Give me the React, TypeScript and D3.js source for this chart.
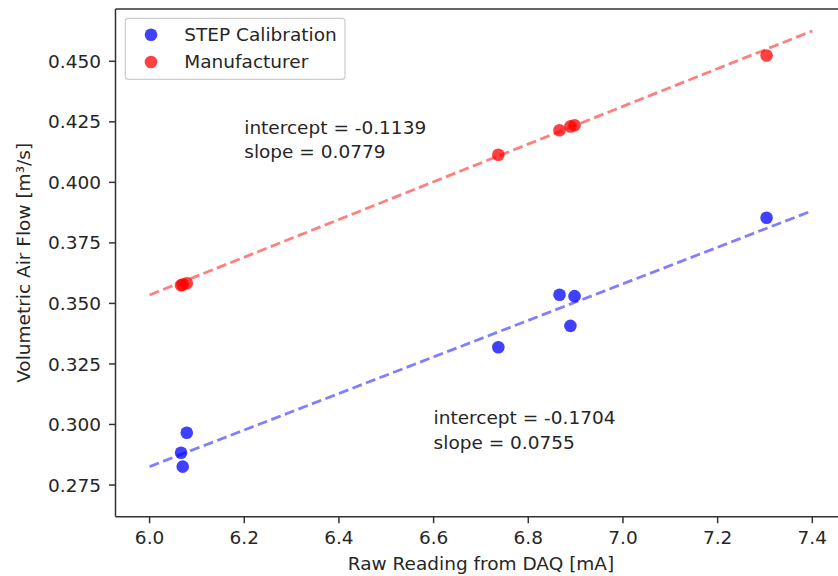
import React from "react";
import * as d3 from "d3";

const stepX = [6.0665, 6.0700, 6.0785, 6.7367, 6.8660, 6.8890, 6.8977, 7.3034];
const stepY = [0.2883, 0.2826, 0.2966, 0.3319, 0.3536, 0.3407, 0.3530, 0.3854];
const mfrX = [6.0665, 6.0700, 6.0785, 6.7367, 6.8660, 6.8890, 6.8977, 7.3034];
const mfrY = [0.3575, 0.3578, 0.3583, 0.4114, 0.4215, 0.4231, 0.4236, 0.4524];
const fitRange = [6.0, 7.4];
const stepFit = { intercept: -0.1704, slope: 0.0755 };
const mfrFit = { intercept: -0.1139, slope: 0.0779 };
const xTicks = [6.0, 6.2, 6.4, 6.6, 6.8, 7.0, 7.2, 7.4];
const yTicks = [0.275, 0.3, 0.325, 0.35, 0.375, 0.4, 0.425, 0.45];
const seriesNames = ["STEP Calibration", "Manufacturer"];

const W = 838, H = 576;
const FONT = "'DejaVu Sans', sans-serif";
const FS = 18.5;

export default function App() {
  const x = d3.scaleLinear().domain([5.928, 7.472]).range([115.5, 846.4]);
  const y = d3.scaleLinear().domain([0.2619, 0.4716]).range([516.7, 9]);
  const line = d3.line<[number, number]>().x(d => x(d[0])).y(d => y(d[1]));
  const fitPts = (f: { intercept: number; slope: number }) =>
    fitRange.map(v => [v, f.intercept + f.slope * v] as [number, number]);
  const left = x.range()[0], right = x.range()[1];
  const top = y.range()[1], bottom = y.range()[0];
  const txt = { fontFamily: FONT, fontSize: FS, fill: "#262626" } as const;

  return (
    <svg width={W} height={H} style={{ position: "absolute", left: 0, top: 0, background: "#fff" }}>
      {/* fit lines */}
      <path d={line(fitPts(mfrFit)) || ""} fill="none" stroke="red" strokeOpacity={0.5} strokeWidth={2.8} strokeDasharray="10,4.5" />
      <path d={line(fitPts(stepFit)) || ""} fill="none" stroke="blue" strokeOpacity={0.5} strokeWidth={2.8} strokeDasharray="10,4.5" />
      {/* points */}
      {stepX.map((v, i) => (
        <circle key={"s" + i} cx={x(v)} cy={y(stepY[i])} r={6.3} fill="blue" fillOpacity={0.75} />
      ))}
      {mfrX.map((v, i) => (
        <circle key={"m" + i} cx={x(v)} cy={y(mfrY[i])} r={6.3} fill="red" fillOpacity={0.75} />
      ))}
      {/* annotations */}
      <text x={x(6.2)} y={y(0.42)} {...txt}>
        <tspan x={x(6.2)}>{`intercept = ${mfrFit.intercept}`}</tspan>
        <tspan x={x(6.2)} dy={24.5}>{`slope = ${mfrFit.slope}`}</tspan>
      </text>
      <text x={x(6.6)} y={y(0.3)} {...txt}>
        <tspan x={x(6.6)}>{`intercept = ${stepFit.intercept}`}</tspan>
        <tspan x={x(6.6)} dy={24.5}>{`slope = ${stepFit.slope}`}</tspan>
      </text>
      {/* spines */}
      <line x1={left} x2={left} y1={top} y2={bottom} stroke="#333" strokeWidth={1.5} />
      <line x1={left} x2={right} y1={bottom} y2={bottom} stroke="#333" strokeWidth={1.5} />
      <line x1={left} x2={right} y1={top} y2={top} stroke="#333" strokeWidth={1.5} />
      <line x1={right} x2={right} y1={top} y2={bottom} stroke="#333" strokeWidth={1.5} />
      {/* x ticks */}
      {xTicks.map(t => (
        <g key={"xt" + t}>
          <line x1={x(t)} x2={x(t)} y1={bottom} y2={bottom + 6.5} stroke="#333" strokeWidth={1.5} />
          <text x={x(t)} y={bottom + 27.5} textAnchor="middle" {...txt}>{t.toFixed(1)}</text>
        </g>
      ))}
      {/* y ticks */}
      {yTicks.map(t => (
        <g key={"yt" + t}>
          <line x1={left} x2={left - 6.5} y1={y(t)} y2={y(t)} stroke="#333" strokeWidth={1.5} />
          <text x={left - 14.5} y={y(t) + 6.6} textAnchor="end" {...txt}>{t.toFixed(3)}</text>
        </g>
      ))}
      {/* axis labels */}
      <text x={(left + 812.4 + 149.6 - left) / 2} y={570} textAnchor="middle" {...txt}>Raw Reading from DAQ [mA]</text>
      <text transform={`translate(30, ${(top + bottom) / 2}) rotate(-90)`} textAnchor="middle" {...txt}>Volumetric Air Flow [m³/s]</text>
      {/* legend */}
      <rect x={125.3} y={18.3} width={219.7} height={61} rx={3} fill="#fff" fillOpacity={0.8} stroke="#ccc" strokeWidth={1.2} />
      <circle cx={151} cy={34.7} r={6.3} fill="blue" fillOpacity={0.75} />
      <circle cx={151} cy={62} r={6.3} fill="red" fillOpacity={0.75} />
      <text x={184.3} y={40.8} {...txt}>{seriesNames[0]}</text>
      <text x={184.3} y={68.1} {...txt}>{seriesNames[1]}</text>
    </svg>
  );
}
